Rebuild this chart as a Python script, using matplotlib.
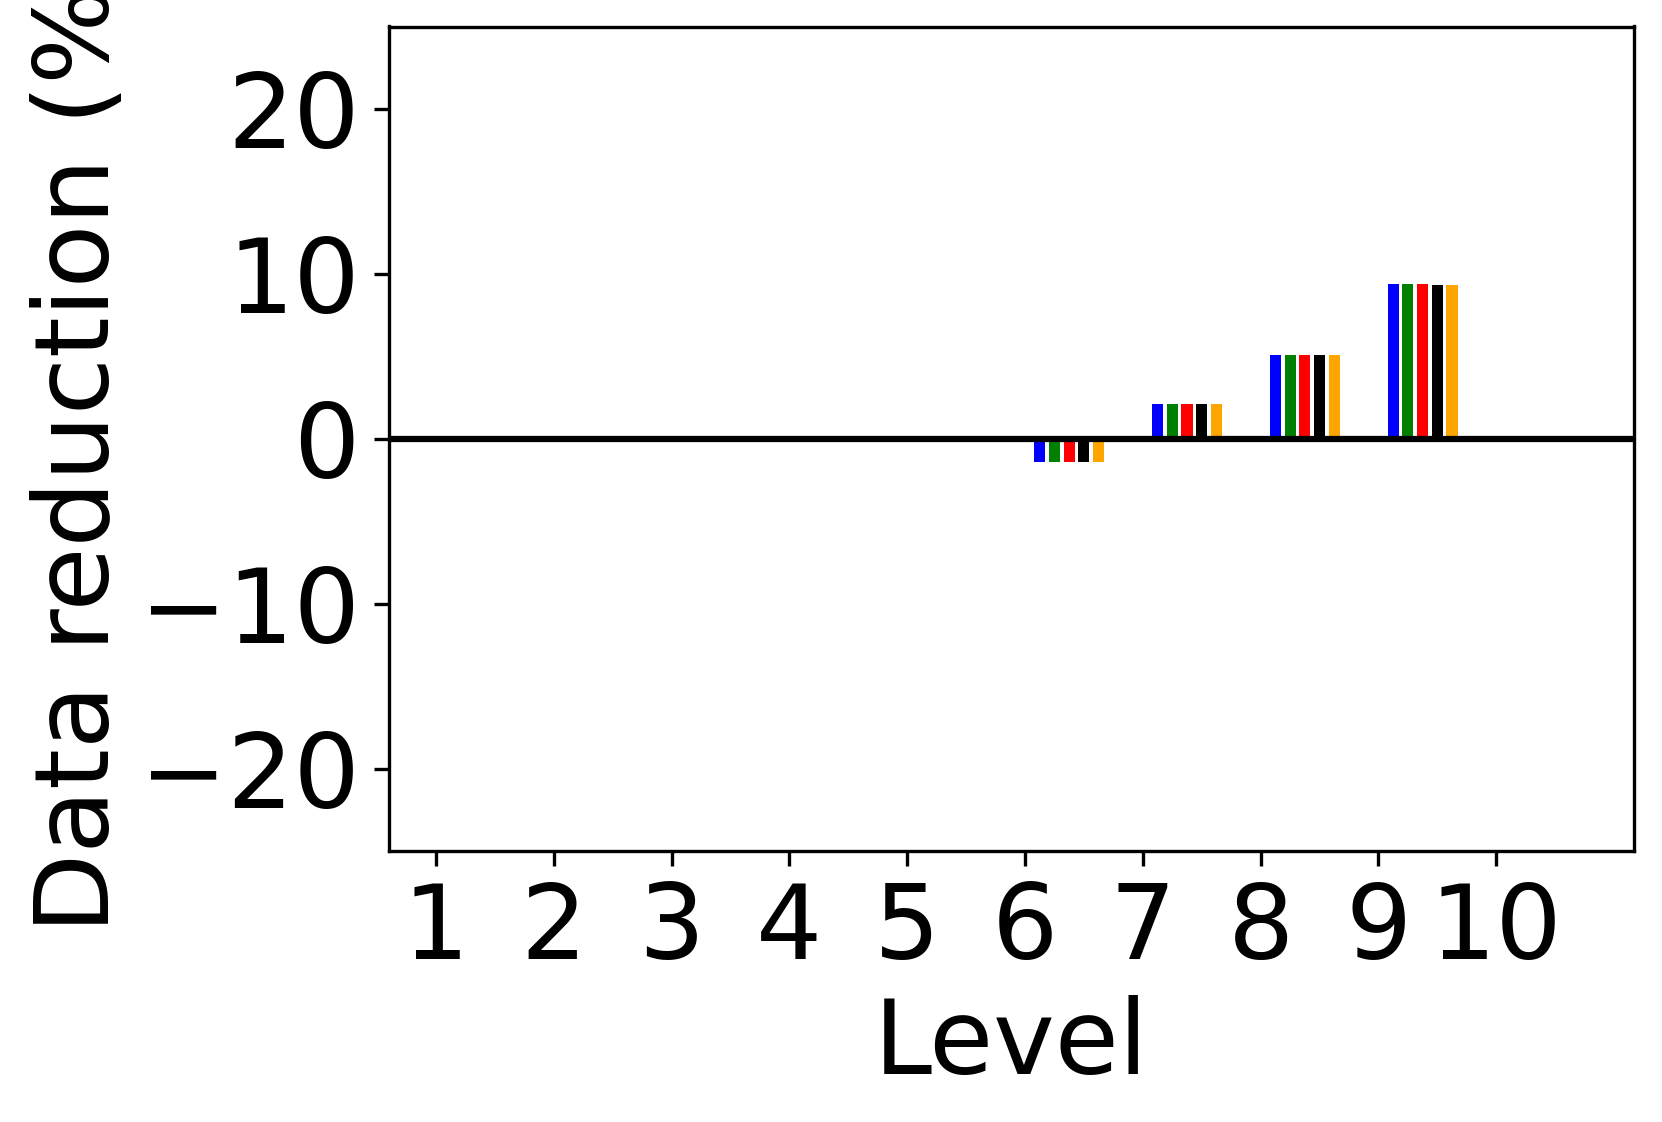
import matplotlib
matplotlib.use("Agg")
import matplotlib.pyplot as plt
import numpy as np

levels = [1, 2, 3, 4, 5, 6, 7, 8, 9, 10]
colors = ['blue', 'green', 'red', 'black', 'orange']
# data reduction (%) per level, one list per series
series = [
    [0, 0, 0, 0, 0, -1.4, 2.1, 5.1, 9.4, 0],
    [0, 0, 0, 0, 0, -1.4, 2.1, 5.1, 9.4, 0],
    [0, 0, 0, 0, 0, -1.4, 2.1, 5.1, 9.4, 0],
    [0, 0, 0, 0, 0, -1.4, 2.1, 5.1, 9.3, 0],
    [0, 0, 0, 0, 0, -1.4, 2.1, 5.1, 9.3, 0],
]

fs = 25
fig = plt.figure(figsize=(1662 / 300, 1122 / 300), dpi=300)
ax = fig.add_axes([389 / 1662, 1 - 851 / 1122, (1634 - 389) / 1662, (851 - 26.5) / 1122])

x = np.array(levels)
w = 0.125
for k, vals in enumerate(series):
    ax.bar(x + (k + 1) * w, vals, width=0.094, color=colors[k])

ax.axhline(0, color='black', linewidth=1.5)
ax.set_xlim(0.6, 11.17)
ax.set_ylim(-25, 25)
ax.set_xticks(levels)
ax.set_yticks([-20, -10, 0, 10, 20])
ax.tick_params(labelsize=fs)
ax.set_xlabel('Level', fontsize=fs, labelpad=3.3)
fig.text(81 / 1662, 1 - 439 / 1122, 'Data reduction (%)', fontsize=fs,
         rotation=90, ha='center', va='center')

fig.savefig('out.png', dpi=300)
